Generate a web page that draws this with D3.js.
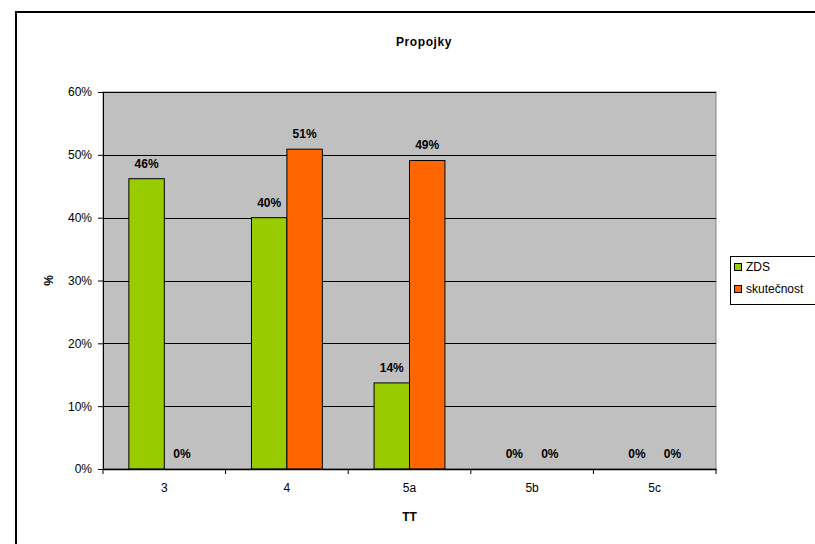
<!DOCTYPE html>
<html>
<head>
<meta charset="utf-8">
<script src="https://cdn.jsdelivr.net/npm/d3@7"></script>
<style>
  body { margin: 0; background: #fff; }
  text { font-family: "Liberation Sans", Arial, sans-serif; }
</style>
</head>
<body>
<div id="chart"></div>
<script>
// data
const categories = ["3", "4", "5a", "5b", "5c"];
const seriesNames = ["ZDS", "skutečnost"];
const zds = [46.2, 40.0, 13.7, 0, 0];
const skutecnost = [0, 50.9, 49.1, 0, 0];
const yTicks = [0, 10, 20, 30, 40, 50, 60];
const colors = ["#99CC00", "#FF6600"];

const W = 815, H = 544;
const plot = { left: 103, top: 92, right: 716, bottom: 469 };

const svg = d3.select("#chart").append("svg")
    .attr("width", W)
    .attr("height", H);

// chart frame
svg.append("rect")
    .attr("x", 16).attr("y", 12)
    .attr("width", W + 20).attr("height", H + 20)
    .attr("fill", "none")
    .attr("stroke", "#000")
    .attr("stroke-width", 2);

const x0 = d3.scaleBand()
    .domain(categories)
    .range([plot.left, plot.right])
    .padding(0);

const y = d3.scaleLinear()
    .domain([0, 60])
    .range([plot.bottom, plot.top]);

// plot background
svg.append("rect")
    .attr("x", plot.left).attr("y", plot.top)
    .attr("width", plot.right - plot.left)
    .attr("height", plot.bottom - plot.top)
    .attr("fill", "#C0C0C0")
    .attr("stroke", "#808080")
    .attr("stroke-width", 1);

// gridlines
svg.append("g")
    .selectAll("line")
    .data(yTicks.filter(d => d > 0))
    .enter().append("line")
    .attr("x1", plot.left).attr("x2", plot.right)
    .attr("y1", d => Math.round(y(d)) + 0.5)
    .attr("y2", d => Math.round(y(d)) + 0.5)
    .attr("stroke", "#000")
    .attr("stroke-width", 1);

// bars: gap width ~146% like Excel
const groupW = x0.bandwidth() * 2 / (2 + 1.46);
const x1 = d3.scaleBand()
    .domain(seriesNames)
    .range([0, groupW]);

const rows = categories.map((c, i) => ({ cat: c, vals: [zds[i], skutecnost[i]] }));

const groups = svg.append("g")
    .selectAll("g")
    .data(rows)
    .enter().append("g")
    .attr("transform", d => `translate(${x0(d.cat) + (x0.bandwidth() - groupW) / 2},0)`);

groups.selectAll("rect")
    .data(d => d.vals.map((v, j) => ({ v, name: seriesNames[j], j })))
    .enter().append("rect")
    .filter(d => d.v > 0)
    .attr("x", d => x1(d.name))
    .attr("y", d => y(d.v))
    .attr("width", x1.bandwidth())
    .attr("height", d => y(0) - y(d.v))
    .attr("fill", d => colors[d.j])
    .attr("stroke", "#000")
    .attr("stroke-width", 1);

groups.selectAll("text")
    .data(d => d.vals.map((v, j) => ({ v, name: seriesNames[j] })))
    .enter().append("text")
    .attr("x", d => x1(d.name) + x1.bandwidth() / 2)
    .attr("y", d => y(d.v) - 11)
    .attr("text-anchor", "middle")
    .attr("font-size", 12)
    .attr("font-weight", "bold")
    .attr("fill", "#000")
    .text(d => Math.round(d.v) + "%");

// y axis
const yAxis = svg.append("g")
    .attr("transform", `translate(${plot.left},0)`)
    .call(d3.axisLeft(y).tickValues(yTicks).tickSize(5).tickPadding(6).tickFormat(d => d + "%"));
yAxis.select(".domain").attr("stroke", "#000");
yAxis.selectAll(".tick line").attr("stroke", "#000");
yAxis.selectAll("text").attr("font-size", 12).attr("fill", "#000")
    .style("font-family", "'Liberation Sans', Arial, sans-serif");

// x axis with ticks at category boundaries
const xAxis = svg.append("g")
    .attr("transform", `translate(0,${plot.bottom})`)
    .call(d3.axisBottom(x0).tickSize(0).tickPadding(14));
xAxis.select(".domain").attr("stroke", "#000").attr("stroke-width", 1.5);
xAxis.selectAll("text").attr("font-size", 12).attr("fill", "#000")
    .style("font-family", "'Liberation Sans', Arial, sans-serif");
svg.append("g")
    .selectAll("line")
    .data(categories.map(c => x0(c)).concat([plot.right]))
    .enter().append("line")
    .attr("x1", d => d).attr("x2", d => d)
    .attr("y1", plot.bottom).attr("y2", plot.bottom + 5)
    .attr("stroke", "#000");

// titles
svg.append("text")
    .attr("x", 424).attr("y", 46)
    .attr("text-anchor", "middle")
    .attr("font-size", 12)
    .attr("font-weight", "bold")
    .attr("letter-spacing", 0.6)
    .text("Propojky");

svg.append("text")
    .attr("x", (plot.left + plot.right) / 2).attr("y", 521)
    .attr("text-anchor", "middle")
    .attr("font-size", 12)
    .attr("font-weight", "bold")
    .text("TT");

svg.append("text")
    .attr("transform", `translate(53,${(plot.top + plot.bottom) / 2}) rotate(-90)`)
    .attr("text-anchor", "middle")
    .attr("font-size", 12)
    .attr("font-weight", "bold")
    .text("%");

// legend
const legend = svg.append("g").attr("transform", "translate(730,256)");
legend.append("rect")
    .attr("x", 0.5).attr("y", 0.5)
    .attr("width", 100).attr("height", 48)
    .attr("fill", "#fff")
    .attr("stroke", "#000");
const items = legend.selectAll("g.item")
    .data(seriesNames)
    .enter().append("g")
    .attr("class", "item")
    .attr("transform", (d, i) => `translate(4,${11 + i * 22})`);
items.append("rect")
    .attr("x", 0.5).attr("y", -3.5)
    .attr("width", 7).attr("height", 7)
    .attr("fill", (d, i) => colors[i])
    .attr("stroke", "#000");
items.append("text")
    .attr("x", 12).attr("y", 4)
    .attr("font-size", 12)
    .text(d => d);
</script>
</body>
</html>
